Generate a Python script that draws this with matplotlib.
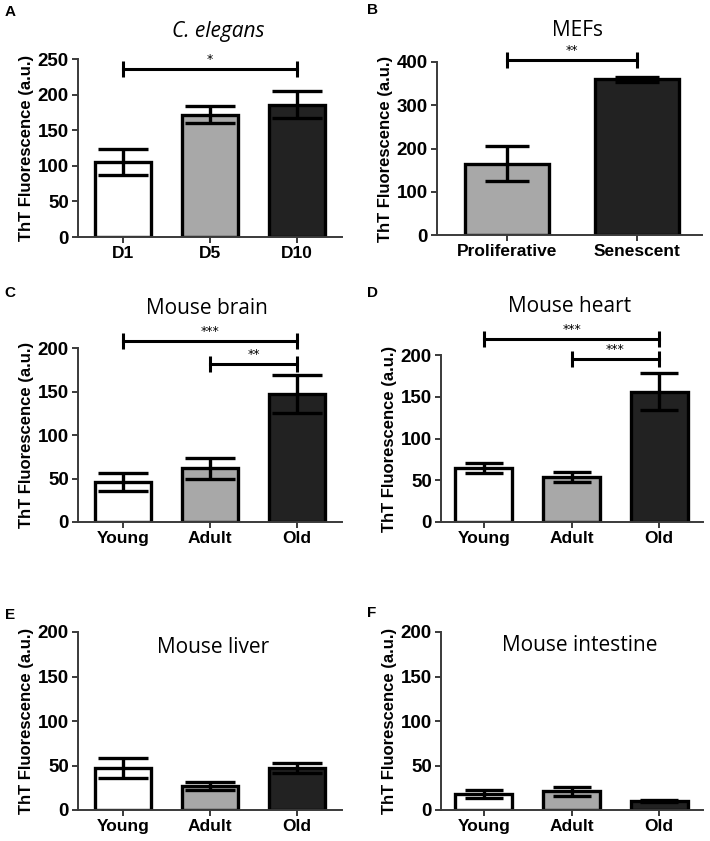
import matplotlib
matplotlib.use("Agg")
import matplotlib.pyplot as plt

W, H = 710, 841
DPI = 100

# ---------------- data ----------------
a_cats = ["D1", "D5", "D10"]
a_vals = [105, 172, 186]
a_errs = [18, 12, 19]

b_cats = ["Proliferative", "Senescent"]
b_vals = [165, 360]
b_errs = [40, 6]

c_cats = ["Young", "Adult", "Old"]
c_vals = [46, 62, 147]
c_errs = [10, 12, 22]

d_cats = ["Young", "Adult", "Old"]
d_vals = [65, 54, 156]
d_errs = [6, 5.5, 22]

e_cats = ["Young", "Adult", "Old"]
e_vals = [47, 27, 47]
e_errs = [11, 4, 5.5]

f_cats = ["Young", "Adult", "Old"]
f_vals = [18, 21, 10]
f_errs = [4.5, 5, 1.5]

colors3 = ["#ffffff", "#a8a8a8", "#222222"]
colors2 = ["#a8a8a8", "#222222"]

fig = plt.figure(figsize=(W / DPI, H / DPI), dpi=DPI)

BOLD = dict(family="Liberation Sans", weight="bold")
TITLEF = dict(family="Open Sans")


def make_ax(x0, x1, ytop, ybot):
    return fig.add_axes([x0 / W, (H - ybot) / H, (x1 - x0) / W, (ybot - ytop) / H])


def draw(ax, cats, vals, errs, colors, ylim, yticks, xlim, capsize):
    x = list(range(len(cats)))
    ax.bar(x, vals, width=0.65, color=colors, edgecolor="black", linewidth=2.4, zorder=2)
    ax.errorbar(x, vals, yerr=errs, fmt="none", ecolor="black", elinewidth=2.4,
                capsize=capsize, capthick=2.4, zorder=3)
    ax.set_xlim(*xlim)
    ax.set_ylim(*ylim)
    ax.set_yticks(yticks)
    ax.set_xticks(x)
    ax.set_xticklabels(cats, fontsize=12.5, **BOLD)
    for lab in ax.get_yticklabels():
        lab.set_fontsize(13.5)
        lab.set_fontfamily("Liberation Sans")
        lab.set_fontweight("bold")
    ax.spines["top"].set_visible(False)
    ax.spines["right"].set_visible(False)
    for s in ("left", "bottom"):
        ax.spines[s].set_linewidth(1.4)
        ax.spines[s].set_color("#3a3a3a")
    ax.tick_params(axis="both", length=4.5, width=1.4, color="#3a3a3a", pad=2)
    ax.set_ylabel("ThT Fluorescence (a.u.)", fontsize=12, labelpad=3, **BOLD)
    ax.patch.set_alpha(0)


def sig(ax, x1, x2, y, stars, msize=11):
    ax.plot([x1, x2], [y, y], color="black", lw=2.2, marker="|", markersize=msize,
            mew=2.2, clip_on=False, zorder=4)
    ax.annotate(stars, xy=((x1 + x2) / 2, y), xytext=(0, 2), textcoords="offset points",
                ha="center", va="bottom", fontsize=9, annotation_clip=False,
                family="DejaVu Sans")


# A
axA = make_ax(78, 342, 59, 237)
draw(axA, a_cats, a_vals, a_errs, colors3, (0, 250), [0, 50, 100, 150, 200, 250], (-0.52, 2.52), 18)
sig(axA, 0, 2, 236, "*")
fig.text(218 / W, 1 - 32 / H, "C. elegans", ha="center", va="center", fontsize=15,
         style="italic", **TITLEF)

# B
axB = make_ax(437, 702, 62, 235)
draw(axB, b_cats, b_vals, b_errs, colors2, (0, 400), [0, 100, 200, 300, 400], (-0.54, 1.5), 16)
sig(axB, 0, 1, 404, "**")
fig.text(578 / W, 1 - 31 / H, "MEFs", ha="center", va="center", fontsize=15, **TITLEF)

# C
axC = make_ax(78, 342, 348, 522)
draw(axC, c_cats, c_vals, c_errs, colors3, (0, 200), [0, 50, 100, 150, 200], (-0.52, 2.52), 18)
sig(axC, 0, 2, 208, "***")
sig(axC, 1, 2, 181.5, "**")
fig.text(207 / W, 1 - 309 / H, "Mouse brain", ha="center", va="center", fontsize=15, **TITLEF)

# D
axD = make_ax(441, 703, 355, 522)
draw(axD, d_cats, d_vals, d_errs, colors3, (0, 200), [0, 50, 100, 150, 200], (-0.49, 2.5), 14)
sig(axD, 0, 2, 219, "***")
sig(axD, 1, 2, 195, "***")
fig.text(570 / W, 1 - 307 / H, "Mouse heart", ha="center", va="center", fontsize=15, **TITLEF)

# E
axE = make_ax(78, 342, 632, 810)
draw(axE, e_cats, e_vals, e_errs, colors3, (0, 200), [0, 50, 100, 150, 200], (-0.52, 2.52), 18)
axE.text(1.03, 183, "Mouse liver", ha="center", va="center", fontsize=15, **TITLEF)

# F
axF = make_ax(441, 703, 632, 810)
draw(axF, f_cats, f_vals, f_errs, colors3, (0, 200), [0, 50, 100, 150, 200], (-0.49, 2.5), 14)
axF.text(1.09, 185, "Mouse intestine", ha="center", va="center", fontsize=15, **TITLEF)

# panel letters
for lx, ly, L in [(10, 12, "A"), (372, 10, "B"), (10, 293, "C"), (372, 293, "D"),
                  (10, 615, "E"), (372, 613, "F")]:
    fig.text(lx / W, 1 - ly / H, L, ha="center", va="center", fontsize=11, **BOLD)

fig.savefig("out.png", dpi=DPI)
